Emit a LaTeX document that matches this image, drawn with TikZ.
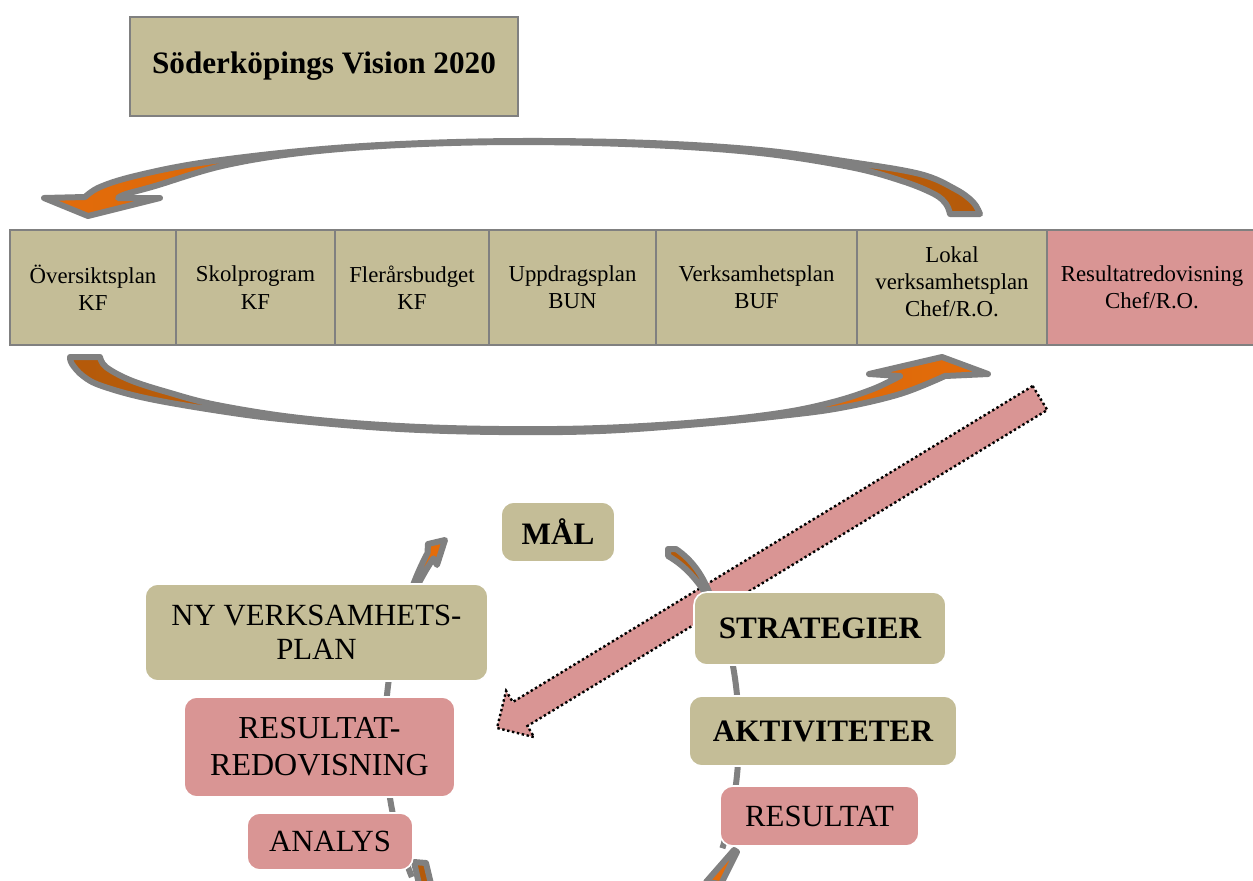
\documentclass[tikz,border=0pt]{standalone}
\usepackage{fontspec}
\setmainfont{Liberation Serif}
\definecolor{tanc}{HTML}{C4BD97}
\definecolor{pinkc}{HTML}{D99594}
\definecolor{grayc}{HTML}{808080}
\definecolor{orA}{HTML}{E46C0A}
\definecolor{orB}{HTML}{B45A0A}
\begin{document}
\begin{tikzpicture}[x=0.5pt,y=-0.5pt,
  cell/.style={draw=grayc, line width=1pt, fill=tanc, minimum height=57.5pt, inner sep=0pt, align=center, font=\fontsize{11.4}{13.6}\selectfont},
  celltxt/.style={inner sep=0pt, align=center, font=\fontsize{11.4}{13.6}\selectfont},
  cbox/.style={rounded corners=6.5pt, draw=white, line width=0.8pt, inner sep=0pt, align=center},
  tanbox/.style={cbox, fill=tanc},
  pinkbox/.style={cbox, fill=pinkc},
  bigtxt/.style={font=\fontsize{15.6}{17}\selectfont\bfseries},
  regtxt/.style={font=\fontsize{15.4}{17}\selectfont},
  bigarrow/.style={draw=grayc, line width=3pt, line join=round},
  cyc/.style={draw=grayc, line width=3pt},
  cycpiece/.style={draw=grayc, line width=3pt, line join=round},
  blockarrow/.style={fill=pinkc, draw=black, line width=1.2pt, dash pattern=on 1.2pt off 1.3pt}
]
\useasboundingbox (0,0) rectangle (1253,880);
\clip (0,0) rectangle (1253,880);

% title
\node[draw=grayc, line width=1pt, fill=tanc, minimum width=194pt, minimum height=49.5pt, font=\fontsize{15.6}{17}\selectfont\bfseries] (vision) at (324,66.5) {Söderköpings Vision 2020};

% row of documents
\node[cell, minimum width=83pt] (c1) at (93,287.5) {Översiktsplan\\KF};
\node[cell, minimum width=79.5pt] (c2) at (255.5,287.5) {Skolprogram\\KF};
\node[cell, minimum width=77pt] (c3) at (412,287.5) {Flerårsbudget\\KF};
\node[cell, minimum width=83.5pt] (c4) at (572.5,287.5) {Uppdragsplan\\BUN};
\node[cell, minimum width=100.5pt] (c5) at (756.5,287.5) {Verksamhetsplan\\BUF};
\node[cell, minimum width=95pt] (c6) at (952,287.5) {};
\node[celltxt] (c6t) at (952,282) {Lokal\\verksamhetsplan\\Chef/R.O.};
\node[cell, fill=pinkc, minimum width=105pt] (c7) at (1152,287.5) {Resultatredovisning\\Chef/R.O.};

% top curved arrow (right to left)
\path[bigarrow, left color=orA, right color=orB]
 (88,216) -- (44,198) -- (85,197)
 -- plot[smooth, tension=0.6] coordinates {(85,197) (100,187) (135,176) (200,163) (300,151) (400,144) (520,141) (650,143) (760,150) (850,162) (920,174) (955,189) (973,202) (980,214)}
 -- (950,214)
 -- plot[smooth, tension=0.6] coordinates {(950,214) (946,204) (934,194) (902,181) (850,167) (760,153) (650,145) (520,142) (400,145) (300,153) (222,166) (155,186) (126,194) (118,198)}
 -- (160,198) -- cycle;

% bottom curved arrow (left to right)
\path[bigarrow, left color=orB, right color=orA]
 (70,357) -- (100,357)
 -- plot[smooth, tension=0.6] coordinates {(100,357) (106,367) (130,380) (167,392) (217,405) (300,418) (400,426) (500,429) (600,428) (700,422) (780,413) (833,402) (873,389) (900,376)}
 -- (869,374) -- (942,357) -- (988,374) -- (945,376)
 -- plot[smooth, tension=0.6] coordinates {(945,376) (900,394) (840,408) (780,416) (700,424) (600,431) (500,432) (400,429) (300,421) (233,413) (150,399) (102,386) (83,376) (72,364) (70,357)}
 -- cycle;

% diagonal block arrow
\path[blockarrow] (1032.7,386.0) -- (512.8,702.0) -- (506.1,690.9) -- (497,728) -- (534.1,737.1) -- (527.4,726.0) -- (1047.3,410.0) -- cycle;

% cycle: right arrow
\draw[cyc] plot[domain=-32:25, samples=60] ({562+177*cos(\x)},{735+268*sin(\x)});
\path[cycpiece, fill=orB] (668,549) -- (676,549) .. controls (692,560) and (703,575) .. (711,597)
  -- (708,598) .. controls (698,580) and (684,565) .. (668,556) -- cycle;
\path[cycpiece, fill=orA] (734,850) -- (737,852) -- (721,884) -- (706,882) -- cycle;

% cycle: left arrow
\draw[cyc] plot[domain=148:214, samples=60] ({562+177*cos(\x)},{735+268*sin(\x)});
\path[cycpiece, fill=orA]
  plot[domain=204:222, samples=20] ({562+(177+4*(\x-204)/18)*cos(\x)},{735+(268+4*(\x-204)/18)*sin(\x)})
  -- (428,544) -- (445,540) -- (437,565)
  -- plot[domain=222:204, samples=20] ({562+(177-4*(\x-204)/18)*cos(\x)},{735+(268-4*(\x-204)/18)*sin(\x)}) -- cycle;
\path[cycpiece, fill=orB] (414,862) -- (426,863) -- (431,884) -- (419,884) -- cycle;

% cycle boxes
\node[tanbox, minimum width=57pt, minimum height=30pt, bigtxt] (mal) at (558,532) {MÅL};
\node[tanbox, minimum width=171.5pt, minimum height=48.5pt, regtxt] (ny) at (316.5,632.5) {NY VERKSAMHETS-\\PLAN};
\node[pinkbox, minimum width=135.5pt, minimum height=50pt, font=\fontsize{16}{18.5}\selectfont] (rr) at (319.5,747) {RESULTAT-\\REDOVISNING};
\node[pinkbox, minimum width=83pt, minimum height=28.5pt, regtxt] (analys) at (330,841.5) {ANALYS};
\node[tanbox, minimum width=126pt, minimum height=36.5pt, bigtxt] (strat) at (820,628.5) {STRATEGIER};
\node[tanbox, minimum width=134pt, minimum height=35pt, bigtxt] (akt) at (823,731) {AKTIVITETER};
\node[pinkbox, minimum width=99.5pt, minimum height=30pt, regtxt] (res) at (819.5,816) {RESULTAT};
\end{tikzpicture}
\end{document}
